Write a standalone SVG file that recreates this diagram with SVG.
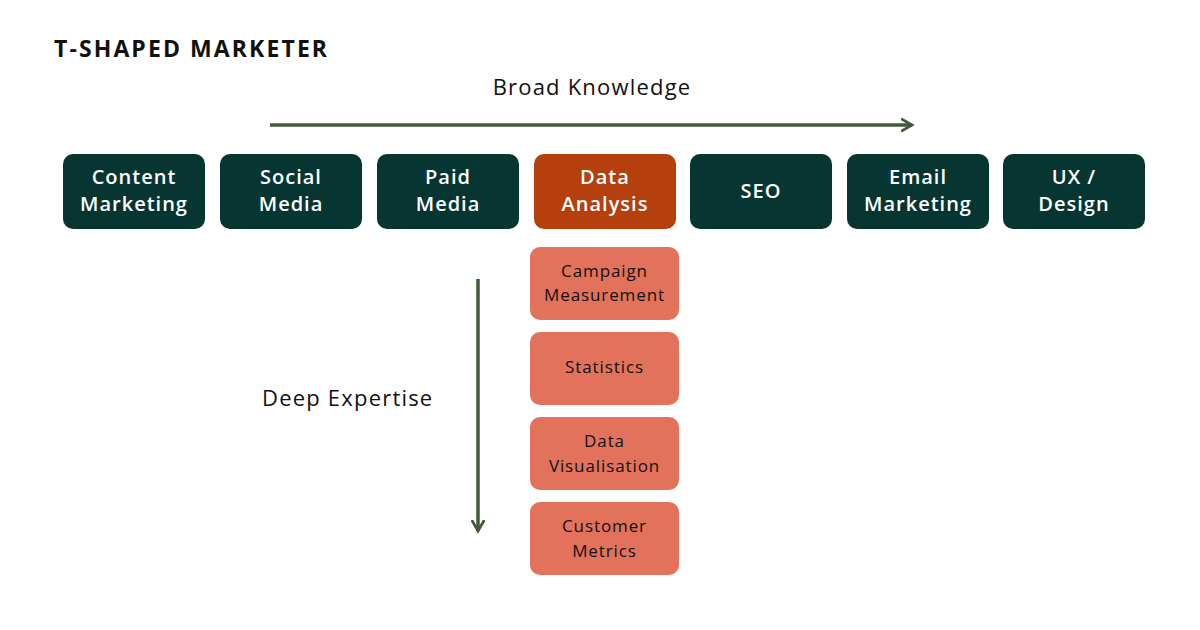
<svg xmlns="http://www.w3.org/2000/svg" width="1200" height="630" viewBox="0 0 1200 630">
<defs>
<style>
.top{fill:#073632}
.hl{fill:#B5400E}
.sub{fill:#E2725B}
.tt{font-family:"Open Sans","Liberation Sans",sans-serif;font-weight:600;font-size:20px;letter-spacing:1px;fill:#fff;text-anchor:middle}
.st{font-family:"Open Sans","Liberation Sans",sans-serif;font-size:17px;letter-spacing:0.9px;fill:#111;text-anchor:middle}
.lbl{font-family:"Open Sans","Liberation Sans",sans-serif;font-size:22px;letter-spacing:1.2px;fill:#111}
.ttl{font-family:"Open Sans","Liberation Sans",sans-serif;font-weight:700;font-size:23px;letter-spacing:2.1px;fill:#111}
.arr{stroke:#435A3C;stroke-width:3.5;fill:none}
</style>
<marker id="ah" viewBox="0 0 10 10" refX="8" refY="5" markerWidth="4" markerHeight="4" orient="auto" markerUnits="strokeWidth">
<path d="M1,1 L8,5 L1,9" fill="none" stroke="#435A3C" stroke-width="2" stroke-linecap="square"/>
</marker>
</defs>
<rect width="1200" height="630" fill="#fff"/>
<text class="ttl" x="54" y="57">T-SHAPED MARKETER</text>
<text class="lbl" x="592" y="95" text-anchor="middle">Broad Knowledge</text>
<text class="lbl" x="262" y="406">Deep Expertise</text>
<g id="connectors">
<line class="arr" x1="270" y1="125" x2="912" y2="125" marker-end="url(#ah)"/>
<line class="arr" x1="478" y1="279" x2="478" y2="531" marker-end="url(#ah)"/>
</g>
<g id="content-marketing"><rect class="top" x="63" y="154" width="142" height="75" rx="10"/><text class="tt" x="134" y="184">Content</text><text class="tt" x="134" y="211">Marketing</text></g>
<g id="social-media"><rect class="top" x="220" y="154" width="142" height="75" rx="10"/><text class="tt" x="291" y="184">Social</text><text class="tt" x="291" y="211">Media</text></g>
<g id="paid-media"><rect class="top" x="377" y="154" width="142" height="75" rx="10"/><text class="tt" x="448" y="184">Paid</text><text class="tt" x="448" y="211">Media</text></g>
<g id="data-analysis"><rect class="hl" x="534" y="154" width="142" height="75" rx="10"/><text class="tt" x="605" y="184">Data</text><text class="tt" x="605" y="211">Analysis</text></g>
<g id="seo"><rect class="top" x="690" y="154" width="142" height="75" rx="10"/><text class="tt" x="761" y="198">SEO</text></g>
<g id="email-marketing"><rect class="top" x="847" y="154" width="142" height="75" rx="10"/><text class="tt" x="918" y="184">Email</text><text class="tt" x="918" y="211">Marketing</text></g>
<g id="ux-design"><rect class="top" x="1003" y="154" width="142" height="75" rx="10"/><text class="tt" x="1074" y="184">UX /</text><text class="tt" x="1074" y="211">Design</text></g>
<g id="campaign-measurement"><rect class="sub" x="530" y="247" width="149" height="73" rx="10"/><text class="st" x="604.5" y="277">Campaign</text><text class="st" x="604.5" y="301">Measurement</text></g>
<g id="statistics"><rect class="sub" x="530" y="332" width="149" height="73" rx="10"/><text class="st" x="604.5" y="373">Statistics</text></g>
<g id="data-visualisation"><rect class="sub" x="530" y="417" width="149" height="73" rx="10"/><text class="st" x="604.5" y="447">Data</text><text class="st" x="604.5" y="472">Visualisation</text></g>
<g id="customer-metrics"><rect class="sub" x="530" y="502" width="149" height="73" rx="10"/><text class="st" x="604.5" y="532">Customer</text><text class="st" x="604.5" y="557">Metrics</text></g>
</svg>
